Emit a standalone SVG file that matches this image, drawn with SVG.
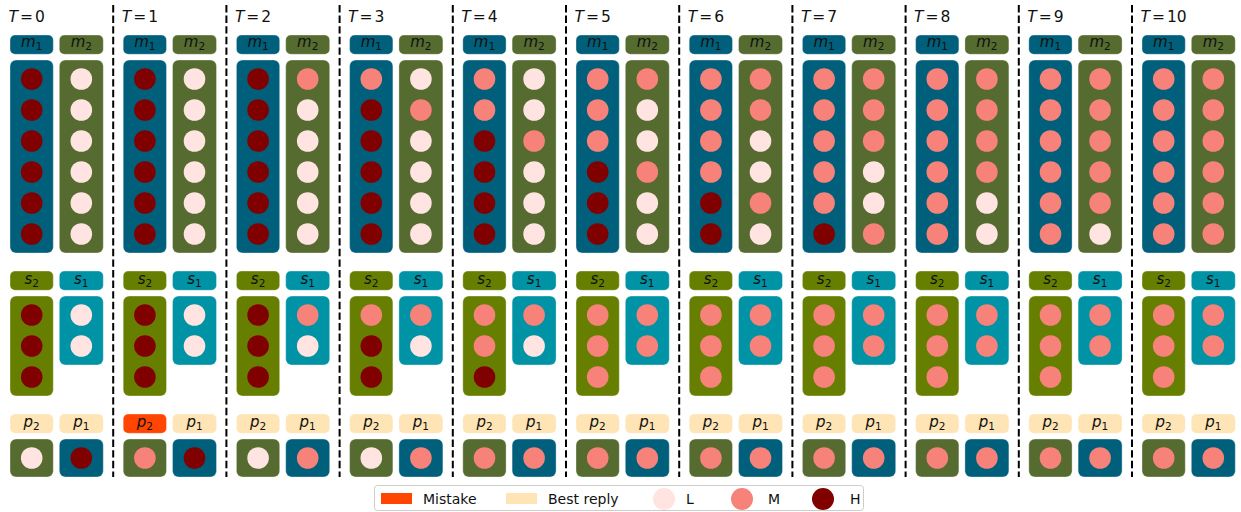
<svg xmlns="http://www.w3.org/2000/svg" width="1241" height="512" viewBox="0 0 1241 512">
<style>
.bm1{fill:#005F7B}.bm2{fill:#556B2F}.bs2{fill:#677F00}.bs1{fill:#0093A5}.bp{fill:#FFE4B5}.bx{fill:#FF4500}
.box{stroke:#ffffff;stroke-opacity:.35;stroke-width:1}
.L{fill:#FFE4E1}.M{fill:#F7827A}.H{fill:#800000}
.lbl{font-family:"DejaVu Sans",sans-serif;font-size:15px;fill:#111111;text-anchor:middle}
.tl{font-family:"DejaVu Sans",sans-serif;font-size:15.5px;fill:#111111}
.lt{font-family:"DejaVu Sans",sans-serif;font-size:14px;fill:#111111}
.sub{font-size:10.5px}
.sep{stroke:#000;stroke-width:2;stroke-dasharray:7.4 3.2;fill:none}
</style>
<defs>
<g id="m1h"><rect class="bm1 box" x="0" y="35" width="43.3" height="19.3" rx="5"/><text class="lbl" x="21.7" y="46.7"><tspan font-style="italic">m</tspan><tspan class="sub" dy="3">1</tspan></text><rect class="bm1 box" x="0" y="60" width="43.3" height="193" rx="6"/></g>
<g id="m2h"><rect class="bm2 box" x="49.3" y="35" width="44" height="19.3" rx="5"/><text class="lbl" x="71.3" y="46.7"><tspan font-style="italic">m</tspan><tspan class="sub" dy="3">2</tspan></text><rect class="bm2 box" x="49.3" y="60" width="44" height="193" rx="6"/></g>
<g id="s2h"><rect class="bs2 box" x="0" y="271" width="43.3" height="19.3" rx="5"/><text class="lbl" x="21.7" y="284"><tspan font-style="italic">s</tspan><tspan class="sub" dy="3">2</tspan></text><rect class="bs2 box" x="0" y="296" width="43.3" height="100" rx="6"/></g>
<g id="s1h"><rect class="bs1 box" x="49.3" y="271" width="44" height="19.3" rx="5"/><text class="lbl" x="71.3" y="284"><tspan font-style="italic">s</tspan><tspan class="sub" dy="3">1</tspan></text><rect class="bs1 box" x="49.3" y="296" width="44" height="69" rx="6"/></g>
<g id="p2h"><rect class="bp box" x="0" y="414" width="43.3" height="19.3" rx="5"/><text class="lbl" x="21.7" y="426.7"><tspan font-style="italic">p</tspan><tspan class="sub" dy="3">2</tspan></text><rect class="bm2 box" x="0" y="439" width="43.3" height="38" rx="6"/></g>
<g id="p2x"><rect class="bx box" x="0" y="414" width="43.3" height="19.3" rx="5"/><text class="lbl" x="21.7" y="426.7"><tspan font-style="italic">p</tspan><tspan class="sub" dy="3">2</tspan></text><rect class="bm2 box" x="0" y="439" width="43.3" height="38" rx="6"/></g>
<g id="p1h"><rect class="bp box" x="49.3" y="414" width="44" height="19.3" rx="5"/><text class="lbl" x="71.3" y="426.7"><tspan font-style="italic">p</tspan><tspan class="sub" dy="3">1</tspan></text><rect class="bm1 box" x="49.3" y="439" width="44" height="38" rx="6"/></g>
</defs>

<g id="separators">
<line class="sep" x1="113.2" y1="5" x2="113.2" y2="477"/>
<line class="sep" x1="226.4" y1="5" x2="226.4" y2="477"/>
<line class="sep" x1="339.6" y1="5" x2="339.6" y2="477"/>
<line class="sep" x1="452.8" y1="5" x2="452.8" y2="477"/>
<line class="sep" x1="566" y1="5" x2="566" y2="477"/>
<line class="sep" x1="679.2" y1="5" x2="679.2" y2="477"/>
<line class="sep" x1="792.4" y1="5" x2="792.4" y2="477"/>
<line class="sep" x1="905.6" y1="5" x2="905.6" y2="477"/>
<line class="sep" x1="1018.8" y1="5" x2="1018.8" y2="477"/>
<line class="sep" x1="1132" y1="5" x2="1132" y2="477"/>
</g>

<!-- T=0 -->
<g id="t0" transform="translate(10,0)">
<text class="tl" x="-1.5" y="21.7"><tspan font-style="italic">T</tspan><tspan dx="2">=</tspan><tspan dx="2">0</tspan></text>
<g id="t0-m1"><use href="#m1h"/><circle class="H" cx="21.7" cy="79" r="10.8"/><circle class="H" cx="21.7" cy="110" r="10.8"/><circle class="H" cx="21.7" cy="141" r="10.8"/><circle class="H" cx="21.7" cy="172" r="10.8"/><circle class="H" cx="21.7" cy="203" r="10.8"/><circle class="H" cx="21.7" cy="234" r="10.8"/></g>
<g id="t0-m2"><use href="#m2h"/><circle class="L" cx="71.3" cy="79" r="10.8"/><circle class="L" cx="71.3" cy="110" r="10.8"/><circle class="L" cx="71.3" cy="141" r="10.8"/><circle class="L" cx="71.3" cy="172" r="10.8"/><circle class="L" cx="71.3" cy="203" r="10.8"/><circle class="L" cx="71.3" cy="234" r="10.8"/></g>
<g id="t0-s2"><use href="#s2h"/><circle class="H" cx="21.7" cy="315" r="10.8"/><circle class="H" cx="21.7" cy="346" r="10.8"/><circle class="H" cx="21.7" cy="377" r="10.8"/></g>
<g id="t0-s1"><use href="#s1h"/><circle class="L" cx="71.3" cy="315" r="10.8"/><circle class="L" cx="71.3" cy="346" r="10.8"/></g>
<g id="t0-p2"><use href="#p2h"/><circle class="L" cx="21.7" cy="458" r="10.8"/></g>
<g id="t0-p1"><use href="#p1h"/><circle class="H" cx="71.3" cy="458" r="10.8"/></g>
</g>

<!-- T=1 -->
<g id="t1" transform="translate(123.2,0)">
<text class="tl" x="-1.5" y="21.7"><tspan font-style="italic">T</tspan><tspan dx="2">=</tspan><tspan dx="2">1</tspan></text>
<g id="t1-m1"><use href="#m1h"/><circle class="H" cx="21.7" cy="79" r="10.8"/><circle class="H" cx="21.7" cy="110" r="10.8"/><circle class="H" cx="21.7" cy="141" r="10.8"/><circle class="H" cx="21.7" cy="172" r="10.8"/><circle class="H" cx="21.7" cy="203" r="10.8"/><circle class="H" cx="21.7" cy="234" r="10.8"/></g>
<g id="t1-m2"><use href="#m2h"/><circle class="L" cx="71.3" cy="79" r="10.8"/><circle class="L" cx="71.3" cy="110" r="10.8"/><circle class="L" cx="71.3" cy="141" r="10.8"/><circle class="L" cx="71.3" cy="172" r="10.8"/><circle class="L" cx="71.3" cy="203" r="10.8"/><circle class="L" cx="71.3" cy="234" r="10.8"/></g>
<g id="t1-s2"><use href="#s2h"/><circle class="H" cx="21.7" cy="315" r="10.8"/><circle class="H" cx="21.7" cy="346" r="10.8"/><circle class="H" cx="21.7" cy="377" r="10.8"/></g>
<g id="t1-s1"><use href="#s1h"/><circle class="L" cx="71.3" cy="315" r="10.8"/><circle class="L" cx="71.3" cy="346" r="10.8"/></g>
<g id="t1-p2"><use href="#p2x"/><circle class="M" cx="21.7" cy="458" r="10.8"/></g>
<g id="t1-p1"><use href="#p1h"/><circle class="H" cx="71.3" cy="458" r="10.8"/></g>
</g>

<!-- T=2 -->
<g id="t2" transform="translate(236.4,0)">
<text class="tl" x="-1.5" y="21.7"><tspan font-style="italic">T</tspan><tspan dx="2">=</tspan><tspan dx="2">2</tspan></text>
<g id="t2-m1"><use href="#m1h"/><circle class="H" cx="21.7" cy="79" r="10.8"/><circle class="H" cx="21.7" cy="110" r="10.8"/><circle class="H" cx="21.7" cy="141" r="10.8"/><circle class="H" cx="21.7" cy="172" r="10.8"/><circle class="H" cx="21.7" cy="203" r="10.8"/><circle class="H" cx="21.7" cy="234" r="10.8"/></g>
<g id="t2-m2"><use href="#m2h"/><circle class="M" cx="71.3" cy="79" r="10.8"/><circle class="L" cx="71.3" cy="110" r="10.8"/><circle class="L" cx="71.3" cy="141" r="10.8"/><circle class="L" cx="71.3" cy="172" r="10.8"/><circle class="L" cx="71.3" cy="203" r="10.8"/><circle class="L" cx="71.3" cy="234" r="10.8"/></g>
<g id="t2-s2"><use href="#s2h"/><circle class="H" cx="21.7" cy="315" r="10.8"/><circle class="H" cx="21.7" cy="346" r="10.8"/><circle class="H" cx="21.7" cy="377" r="10.8"/></g>
<g id="t2-s1"><use href="#s1h"/><circle class="M" cx="71.3" cy="315" r="10.8"/><circle class="L" cx="71.3" cy="346" r="10.8"/></g>
<g id="t2-p2"><use href="#p2h"/><circle class="L" cx="21.7" cy="458" r="10.8"/></g>
<g id="t2-p1"><use href="#p1h"/><circle class="M" cx="71.3" cy="458" r="10.8"/></g>
</g>

<!-- T=3 -->
<g id="t3" transform="translate(349.6,0)">
<text class="tl" x="-1.5" y="21.7"><tspan font-style="italic">T</tspan><tspan dx="2">=</tspan><tspan dx="2">3</tspan></text>
<g id="t3-m1"><use href="#m1h"/><circle class="M" cx="21.7" cy="79" r="10.8"/><circle class="H" cx="21.7" cy="110" r="10.8"/><circle class="H" cx="21.7" cy="141" r="10.8"/><circle class="H" cx="21.7" cy="172" r="10.8"/><circle class="H" cx="21.7" cy="203" r="10.8"/><circle class="H" cx="21.7" cy="234" r="10.8"/></g>
<g id="t3-m2"><use href="#m2h"/><circle class="L" cx="71.3" cy="79" r="10.8"/><circle class="M" cx="71.3" cy="110" r="10.8"/><circle class="L" cx="71.3" cy="141" r="10.8"/><circle class="L" cx="71.3" cy="172" r="10.8"/><circle class="L" cx="71.3" cy="203" r="10.8"/><circle class="L" cx="71.3" cy="234" r="10.8"/></g>
<g id="t3-s2"><use href="#s2h"/><circle class="M" cx="21.7" cy="315" r="10.8"/><circle class="H" cx="21.7" cy="346" r="10.8"/><circle class="H" cx="21.7" cy="377" r="10.8"/></g>
<g id="t3-s1"><use href="#s1h"/><circle class="M" cx="71.3" cy="315" r="10.8"/><circle class="L" cx="71.3" cy="346" r="10.8"/></g>
<g id="t3-p2"><use href="#p2h"/><circle class="L" cx="21.7" cy="458" r="10.8"/></g>
<g id="t3-p1"><use href="#p1h"/><circle class="M" cx="71.3" cy="458" r="10.8"/></g>
</g>

<!-- T=4 -->
<g id="t4" transform="translate(462.8,0)">
<text class="tl" x="-1.5" y="21.7"><tspan font-style="italic">T</tspan><tspan dx="2">=</tspan><tspan dx="2">4</tspan></text>
<g id="t4-m1"><use href="#m1h"/><circle class="M" cx="21.7" cy="79" r="10.8"/><circle class="M" cx="21.7" cy="110" r="10.8"/><circle class="H" cx="21.7" cy="141" r="10.8"/><circle class="H" cx="21.7" cy="172" r="10.8"/><circle class="H" cx="21.7" cy="203" r="10.8"/><circle class="H" cx="21.7" cy="234" r="10.8"/></g>
<g id="t4-m2"><use href="#m2h"/><circle class="L" cx="71.3" cy="79" r="10.8"/><circle class="L" cx="71.3" cy="110" r="10.8"/><circle class="M" cx="71.3" cy="141" r="10.8"/><circle class="L" cx="71.3" cy="172" r="10.8"/><circle class="L" cx="71.3" cy="203" r="10.8"/><circle class="L" cx="71.3" cy="234" r="10.8"/></g>
<g id="t4-s2"><use href="#s2h"/><circle class="M" cx="21.7" cy="315" r="10.8"/><circle class="M" cx="21.7" cy="346" r="10.8"/><circle class="H" cx="21.7" cy="377" r="10.8"/></g>
<g id="t4-s1"><use href="#s1h"/><circle class="M" cx="71.3" cy="315" r="10.8"/><circle class="L" cx="71.3" cy="346" r="10.8"/></g>
<g id="t4-p2"><use href="#p2h"/><circle class="M" cx="21.7" cy="458" r="10.8"/></g>
<g id="t4-p1"><use href="#p1h"/><circle class="M" cx="71.3" cy="458" r="10.8"/></g>
</g>

<!-- T=5 -->
<g id="t5" transform="translate(576,0)">
<text class="tl" x="-1.5" y="21.7"><tspan font-style="italic">T</tspan><tspan dx="2">=</tspan><tspan dx="2">5</tspan></text>
<g id="t5-m1"><use href="#m1h"/><circle class="M" cx="21.7" cy="79" r="10.8"/><circle class="M" cx="21.7" cy="110" r="10.8"/><circle class="M" cx="21.7" cy="141" r="10.8"/><circle class="H" cx="21.7" cy="172" r="10.8"/><circle class="H" cx="21.7" cy="203" r="10.8"/><circle class="H" cx="21.7" cy="234" r="10.8"/></g>
<g id="t5-m2"><use href="#m2h"/><circle class="M" cx="71.3" cy="79" r="10.8"/><circle class="L" cx="71.3" cy="110" r="10.8"/><circle class="L" cx="71.3" cy="141" r="10.8"/><circle class="M" cx="71.3" cy="172" r="10.8"/><circle class="L" cx="71.3" cy="203" r="10.8"/><circle class="L" cx="71.3" cy="234" r="10.8"/></g>
<g id="t5-s2"><use href="#s2h"/><circle class="M" cx="21.7" cy="315" r="10.8"/><circle class="M" cx="21.7" cy="346" r="10.8"/><circle class="M" cx="21.7" cy="377" r="10.8"/></g>
<g id="t5-s1"><use href="#s1h"/><circle class="M" cx="71.3" cy="315" r="10.8"/><circle class="M" cx="71.3" cy="346" r="10.8"/></g>
<g id="t5-p2"><use href="#p2h"/><circle class="M" cx="21.7" cy="458" r="10.8"/></g>
<g id="t5-p1"><use href="#p1h"/><circle class="M" cx="71.3" cy="458" r="10.8"/></g>
</g>

<!-- T=6 -->
<g id="t6" transform="translate(689.2,0)">
<text class="tl" x="-1.5" y="21.7"><tspan font-style="italic">T</tspan><tspan dx="2">=</tspan><tspan dx="2">6</tspan></text>
<g id="t6-m1"><use href="#m1h"/><circle class="M" cx="21.7" cy="79" r="10.8"/><circle class="M" cx="21.7" cy="110" r="10.8"/><circle class="M" cx="21.7" cy="141" r="10.8"/><circle class="M" cx="21.7" cy="172" r="10.8"/><circle class="H" cx="21.7" cy="203" r="10.8"/><circle class="H" cx="21.7" cy="234" r="10.8"/></g>
<g id="t6-m2"><use href="#m2h"/><circle class="M" cx="71.3" cy="79" r="10.8"/><circle class="M" cx="71.3" cy="110" r="10.8"/><circle class="L" cx="71.3" cy="141" r="10.8"/><circle class="L" cx="71.3" cy="172" r="10.8"/><circle class="M" cx="71.3" cy="203" r="10.8"/><circle class="L" cx="71.3" cy="234" r="10.8"/></g>
<g id="t6-s2"><use href="#s2h"/><circle class="M" cx="21.7" cy="315" r="10.8"/><circle class="M" cx="21.7" cy="346" r="10.8"/><circle class="M" cx="21.7" cy="377" r="10.8"/></g>
<g id="t6-s1"><use href="#s1h"/><circle class="M" cx="71.3" cy="315" r="10.8"/><circle class="M" cx="71.3" cy="346" r="10.8"/></g>
<g id="t6-p2"><use href="#p2h"/><circle class="M" cx="21.7" cy="458" r="10.8"/></g>
<g id="t6-p1"><use href="#p1h"/><circle class="M" cx="71.3" cy="458" r="10.8"/></g>
</g>

<!-- T=7 -->
<g id="t7" transform="translate(802.4,0)">
<text class="tl" x="-1.5" y="21.7"><tspan font-style="italic">T</tspan><tspan dx="2">=</tspan><tspan dx="2">7</tspan></text>
<g id="t7-m1"><use href="#m1h"/><circle class="M" cx="21.7" cy="79" r="10.8"/><circle class="M" cx="21.7" cy="110" r="10.8"/><circle class="M" cx="21.7" cy="141" r="10.8"/><circle class="M" cx="21.7" cy="172" r="10.8"/><circle class="M" cx="21.7" cy="203" r="10.8"/><circle class="H" cx="21.7" cy="234" r="10.8"/></g>
<g id="t7-m2"><use href="#m2h"/><circle class="M" cx="71.3" cy="79" r="10.8"/><circle class="M" cx="71.3" cy="110" r="10.8"/><circle class="M" cx="71.3" cy="141" r="10.8"/><circle class="L" cx="71.3" cy="172" r="10.8"/><circle class="L" cx="71.3" cy="203" r="10.8"/><circle class="M" cx="71.3" cy="234" r="10.8"/></g>
<g id="t7-s2"><use href="#s2h"/><circle class="M" cx="21.7" cy="315" r="10.8"/><circle class="M" cx="21.7" cy="346" r="10.8"/><circle class="M" cx="21.7" cy="377" r="10.8"/></g>
<g id="t7-s1"><use href="#s1h"/><circle class="M" cx="71.3" cy="315" r="10.8"/><circle class="M" cx="71.3" cy="346" r="10.8"/></g>
<g id="t7-p2"><use href="#p2h"/><circle class="M" cx="21.7" cy="458" r="10.8"/></g>
<g id="t7-p1"><use href="#p1h"/><circle class="M" cx="71.3" cy="458" r="10.8"/></g>
</g>

<!-- T=8 -->
<g id="t8" transform="translate(915.6,0)">
<text class="tl" x="-1.5" y="21.7"><tspan font-style="italic">T</tspan><tspan dx="2">=</tspan><tspan dx="2">8</tspan></text>
<g id="t8-m1"><use href="#m1h"/><circle class="M" cx="21.7" cy="79" r="10.8"/><circle class="M" cx="21.7" cy="110" r="10.8"/><circle class="M" cx="21.7" cy="141" r="10.8"/><circle class="M" cx="21.7" cy="172" r="10.8"/><circle class="M" cx="21.7" cy="203" r="10.8"/><circle class="M" cx="21.7" cy="234" r="10.8"/></g>
<g id="t8-m2"><use href="#m2h"/><circle class="M" cx="71.3" cy="79" r="10.8"/><circle class="M" cx="71.3" cy="110" r="10.8"/><circle class="M" cx="71.3" cy="141" r="10.8"/><circle class="M" cx="71.3" cy="172" r="10.8"/><circle class="L" cx="71.3" cy="203" r="10.8"/><circle class="L" cx="71.3" cy="234" r="10.8"/></g>
<g id="t8-s2"><use href="#s2h"/><circle class="M" cx="21.7" cy="315" r="10.8"/><circle class="M" cx="21.7" cy="346" r="10.8"/><circle class="M" cx="21.7" cy="377" r="10.8"/></g>
<g id="t8-s1"><use href="#s1h"/><circle class="M" cx="71.3" cy="315" r="10.8"/><circle class="M" cx="71.3" cy="346" r="10.8"/></g>
<g id="t8-p2"><use href="#p2h"/><circle class="M" cx="21.7" cy="458" r="10.8"/></g>
<g id="t8-p1"><use href="#p1h"/><circle class="M" cx="71.3" cy="458" r="10.8"/></g>
</g>

<!-- T=9 -->
<g id="t9" transform="translate(1028.8,0)">
<text class="tl" x="-1.5" y="21.7"><tspan font-style="italic">T</tspan><tspan dx="2">=</tspan><tspan dx="2">9</tspan></text>
<g id="t9-m1"><use href="#m1h"/><circle class="M" cx="21.7" cy="79" r="10.8"/><circle class="M" cx="21.7" cy="110" r="10.8"/><circle class="M" cx="21.7" cy="141" r="10.8"/><circle class="M" cx="21.7" cy="172" r="10.8"/><circle class="M" cx="21.7" cy="203" r="10.8"/><circle class="M" cx="21.7" cy="234" r="10.8"/></g>
<g id="t9-m2"><use href="#m2h"/><circle class="M" cx="71.3" cy="79" r="10.8"/><circle class="M" cx="71.3" cy="110" r="10.8"/><circle class="M" cx="71.3" cy="141" r="10.8"/><circle class="M" cx="71.3" cy="172" r="10.8"/><circle class="M" cx="71.3" cy="203" r="10.8"/><circle class="L" cx="71.3" cy="234" r="10.8"/></g>
<g id="t9-s2"><use href="#s2h"/><circle class="M" cx="21.7" cy="315" r="10.8"/><circle class="M" cx="21.7" cy="346" r="10.8"/><circle class="M" cx="21.7" cy="377" r="10.8"/></g>
<g id="t9-s1"><use href="#s1h"/><circle class="M" cx="71.3" cy="315" r="10.8"/><circle class="M" cx="71.3" cy="346" r="10.8"/></g>
<g id="t9-p2"><use href="#p2h"/><circle class="M" cx="21.7" cy="458" r="10.8"/></g>
<g id="t9-p1"><use href="#p1h"/><circle class="M" cx="71.3" cy="458" r="10.8"/></g>
</g>

<!-- T=10 -->
<g id="t10" transform="translate(1142,0)">
<text class="tl" x="-1.5" y="21.7"><tspan font-style="italic">T</tspan><tspan dx="2">=</tspan><tspan dx="2">10</tspan></text>
<g id="t10-m1"><use href="#m1h"/><circle class="M" cx="21.7" cy="79" r="10.8"/><circle class="M" cx="21.7" cy="110" r="10.8"/><circle class="M" cx="21.7" cy="141" r="10.8"/><circle class="M" cx="21.7" cy="172" r="10.8"/><circle class="M" cx="21.7" cy="203" r="10.8"/><circle class="M" cx="21.7" cy="234" r="10.8"/></g>
<g id="t10-m2"><use href="#m2h"/><circle class="M" cx="71.3" cy="79" r="10.8"/><circle class="M" cx="71.3" cy="110" r="10.8"/><circle class="M" cx="71.3" cy="141" r="10.8"/><circle class="M" cx="71.3" cy="172" r="10.8"/><circle class="M" cx="71.3" cy="203" r="10.8"/><circle class="M" cx="71.3" cy="234" r="10.8"/></g>
<g id="t10-s2"><use href="#s2h"/><circle class="M" cx="21.7" cy="315" r="10.8"/><circle class="M" cx="21.7" cy="346" r="10.8"/><circle class="M" cx="21.7" cy="377" r="10.8"/></g>
<g id="t10-s1"><use href="#s1h"/><circle class="M" cx="71.3" cy="315" r="10.8"/><circle class="M" cx="71.3" cy="346" r="10.8"/></g>
<g id="t10-p2"><use href="#p2h"/><circle class="M" cx="21.7" cy="458" r="10.8"/></g>
<g id="t10-p1"><use href="#p1h"/><circle class="M" cx="71.3" cy="458" r="10.8"/></g>
</g>

<!-- Legend -->
<g id="legend">
<rect x="374.5" y="485.5" width="489" height="25" rx="3" fill="#ffffff" stroke="#cccccc" stroke-width="1"/>
<rect class="bx" x="381" y="493" width="31" height="11"/>
<text class="lt" x="423" y="503.5">Mistake</text>
<rect class="bp" x="506" y="493" width="31" height="11"/>
<text class="lt" x="548" y="503.5">Best reply</text>
<circle class="L" cx="664" cy="499" r="11"/>
<text class="lt" x="686" y="503.5">L</text>
<circle class="M" cx="742" cy="499" r="11"/>
<text class="lt" x="768" y="503.5">M</text>
<circle class="H" cx="823" cy="499" r="11"/>
<text class="lt" x="850" y="503.5">H</text>
</g>
</svg>
